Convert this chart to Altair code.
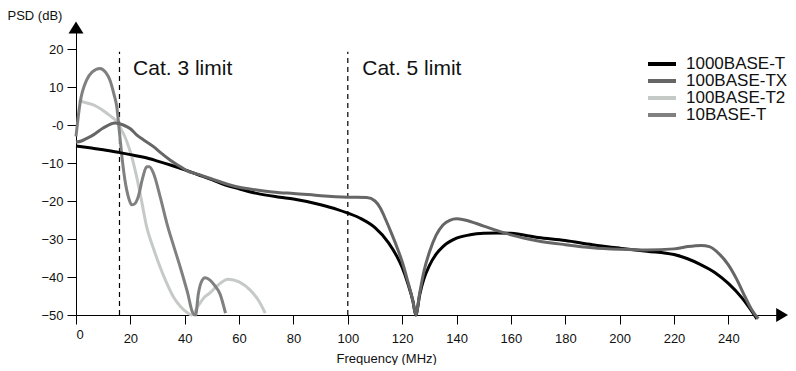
import altair as alt
import pandas as pd

FONT = "Liberation Sans"

series_names = ["1000BASE-T", "100BASE-TX", "100BASE-T2", "10BASE-T"]
series_colors = ["#000000", "#666666", "#c6cac6", "#808080"]
draw_order = ["100BASE-T2", "10BASE-T", "1000BASE-T", "100BASE-TX"]

# 1000BASE-T
gbt_f = [0, 5, 10, 15.6, 20, 25, 30, 35, 40, 45, 50, 55, 60, 66.5, 75, 80, 90, 96, 100,
         105, 110, 115, 118, 120, 122, 124, 125, 126.5, 128, 130, 132.5, 135, 140, 145,
         150, 155, 160, 170, 180, 190, 200, 210, 220, 225, 230, 235, 240, 245, 250.5]
gbt_db = [-5.5, -6.0, -6.5, -7.2, -7.8, -8.5, -9.5, -10.6, -11.8, -13.1, -14.4, -15.8, -16.8,
          -18.0, -19.0, -19.5, -21.0, -22.2, -23.2, -24.7, -27.0, -31.0, -34.5, -37.5, -41.5,
          -46.5, -50.0, -44.5, -40.5, -37.0, -34.0, -32.0, -29.8, -28.9, -28.5, -28.4, -28.5,
          -29.6, -30.4, -31.5, -32.4, -33.2, -34.1, -35.2, -36.8, -38.8, -41.7, -45.5, -51.0]

# 100BASE-TX
tx_f = [0, 2, 4, 6.4, 10, 14.4, 17.4, 20, 22.3, 25, 28.5, 31, 34.6, 38, 40.7, 45, 50, 54,
        60, 66.5, 75, 80, 90, 100, 107, 110, 112, 114, 116, 118, 120, 122, 124, 125, 126.5,
        128, 130, 132.5, 135, 137.5, 140, 143, 150, 155, 160, 170, 180, 190, 200, 210, 220,
        225, 230, 233, 236, 240, 243, 246, 248.5, 251]
tx_db = [-4.5, -4.2, -3.5, -2.6, -0.8, 0.5, 0.0, -1.0, -2.6, -4.0, -5.7, -7.2, -9.2, -10.8,
         -12.0, -13.0, -14.2, -15.2, -16.4, -17.1, -17.8, -18.0, -18.6, -19.0, -19.1, -20.0,
         -21.9, -25.0, -28.4, -32.0, -36.0, -41.0, -46.5, -50.0, -44.0, -38.5, -33.5, -29.0,
         -26.3, -25.1, -24.7, -25.0, -26.6, -27.8, -28.9, -30.5, -31.5, -32.3, -32.7, -32.9,
         -32.6, -32.0, -31.7, -32.0, -33.5, -36.8, -40.5, -45.0, -48.5, -51.0]

# 100BASE-T2
t2_f = [1, 4, 6.4, 9, 11.3, 13, 15, 16.5, 18, 19.5, 20.5, 22.3, 24, 26, 28.5, 30.9, 33.3,
        35.8, 38.5, 41, 42.5, 45, 47, 49.3, 52, 56, 60, 64, 67, 69.6]
t2_db = [6.4, 5.8, 5.3, 4.3, 3.1, 2.2, 0.9, -1.0, -3.1, -6.0, -8.3, -13.6, -19.5, -26.8,
         -32.5, -37.3, -41.5, -45.2, -47.8, -49.4, -50.0, -47.5, -45.5, -44.2, -42.3, -40.6,
         -41.3, -43.4, -46.0, -49.5]

# 10BASE-T
t10_f = [0, 1.5, 3.9, 6, 8.8, 11, 12.5, 14, 15, 16, 17, 18, 19.5, 20.5, 21.5, 22.9, 24.5,
         26, 27, 28.5, 31, 33.4, 36, 38.3, 41, 43, 44, 45, 46, 47.5, 49.3, 51, 53, 55]
t10_db = [-3.0, 5.8, 11.8, 14.0, 14.9, 13.8, 11.8, 8.0, 4.8, -2.0, -9.0, -14.5, -19.5, -21.0,
          -20.8, -18.9, -14.0, -11.0, -11.0, -12.7, -19.0, -25.8, -32.0, -37.3, -44.0, -49.5,
          -50.0, -44.5, -41.5, -40.2, -40.8, -42.2, -44.5, -49.5]

limit_f = [16, 100]
limit_top = [19.3, 19.3]
limit_bottom = [-50, -50]

note_text = ["Cat. 3 limit", "Cat. 5 limit"]
note_f = [21, 105.3]
note_db = [13.2, 13.2]

x_ticks = list(range(0, 241, 20))
y_ticks = list(range(-50, 21, 10))
x_domain = [0, 259]
y_domain = [-50, 25]

arrow_y = {"f": [0], "db": [25.66]}
arrow_x = {"f": [259.8], "db": [-50]}

curves = {
    "1000BASE-T": (gbt_f, gbt_db),
    "100BASE-TX": (tx_f, tx_db),
    "100BASE-T2": (t2_f, t2_db),
    "10BASE-T": (t10_f, t10_db),
}
rows = []
for name, (fs, ds) in curves.items():
    for f, d in zip(fs, ds):
        rows.append({"series": name, "f": f, "db": d})
df = pd.DataFrame(rows)

xs = alt.Scale(domain=x_domain, nice=False, zero=False)
ys = alt.Scale(domain=y_domain, nice=False, zero=False)
cs = alt.Scale(domain=series_names, range=series_colors)

x_axis = alt.Axis(
    values=x_ticks, tickSize=9, grid=False, domainColor="black", tickColor="black",
    labelFont=FONT, labelFontSize=13, labelColor="#111",
    labelPadding={"condition": {"test": "datum.value === 0", "value": 4}, "value": 8},
    title="Frequency (MHz)", titleFont=FONT, titleFontSize=13, titleFontWeight="normal",
    titleColor="#111", titleX=260, titleY=47, titleAlign="left", titleBaseline="alphabetic",
)
y_axis = alt.Axis(
    values=y_ticks, tickSize=9, grid=False, domainColor="black", tickColor="black",
    labelFont=FONT, labelFontSize=13, labelColor="#111", labelPadding=4,
    labelExpr="datum.value === 0 ? '-0' : datum.label",
    title="PSD (dB)", titleFont=FONT, titleFontSize=13, titleFontWeight="normal",
    titleColor="#111", titleAngle=0, titleX=-69, titleY=-10.5, titleAlign="left",
    titleBaseline="alphabetic",
)


def X(field="f"):
    return alt.X(f"{field}:Q", scale=xs, axis=x_axis)


def Y(field="db"):
    return alt.Y(f"{field}:Q", scale=ys, axis=y_axis)


legend = alt.Legend(
    title=None, orient="none", legendX=577, legendY=25,
    symbolType="M-2,0L2,0", symbolSize=196, symbolStrokeWidth=4,
    labelFont=FONT, labelFontSize=17, labelColor="#111", labelOffset=15,
    rowPadding=-1.5, padding=0,
)

base = alt.Chart(df)
layers = []
for name in draw_order:
    layers.append(
        base.transform_filter(alt.datum.series == name)
        .mark_line(interpolate="monotone", strokeWidth=3)
        .encode(x=X(), y=Y(), color=alt.Color("series:N", scale=cs, legend=legend))
    )

limits = alt.Chart(pd.DataFrame({"f": limit_f, "top": limit_top, "bottom": limit_bottom})).mark_rule(
    color="black", strokeWidth=1.2, strokeDash=[5, 4]
).encode(x=X(), y=Y("bottom"), y2="top:Q")

notes = alt.Chart(pd.DataFrame({"t": note_text, "f": note_f, "db": note_db})).mark_text(
    font=FONT, fontSize=21, align="left", baseline="alphabetic", color="#111"
).encode(x=X(), y=Y(), text="t:N")

arrow_up = alt.Chart(pd.DataFrame(arrow_y)).mark_point(
    shape="M0,-1L1.25,1L-1.25,1Z", size=144, filled=True, color="black", opacity=1
).encode(x=X(), y=Y())

arrow_right = alt.Chart(pd.DataFrame(arrow_x)).mark_point(
    shape="M1,0L-1,-1.17L-1,1.17Z", size=144, filled=True, color="black", opacity=1
).encode(x=X(), y=Y())

chart = alt.layer(limits, *layers, notes, arrow_up, arrow_right).properties(
    width=704, height=285,
    autosize=alt.AutoSizeParams(type="none"),
    padding={"left": 68, "top": 22, "right": 8, "bottom": 50},
    background="white",
).configure_view(stroke=None)

chart.save("out.html", embed_options={"renderer": "svg", "actions": False})
